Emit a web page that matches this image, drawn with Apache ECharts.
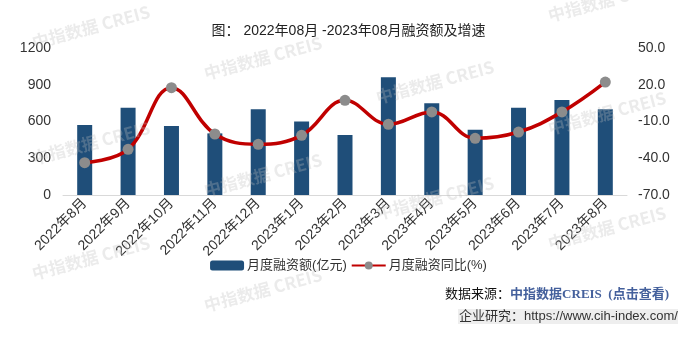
<!DOCTYPE html>
<html><head><meta charset="utf-8">
<script src="https://cdn.jsdelivr.net/npm/echarts@6/dist/echarts.min.js"></script>
<style>html,body{margin:0;padding:0;background:#fff}#c{width:697px;height:338px}</style>
</head><body><div id="c"></div>
<script>
const categories = ['2022年8月','2022年9月','2022年10月','2022年11月','2022年12月','2023年1月','2023年2月','2023年3月','2023年4月','2023年5月','2023年6月','2023年7月','2023年8月'];
const amountValues = [571, 713, 563, 503, 699, 601, 490, 961, 748, 533, 713, 776, 699];
const yoyValues = [-43.6, -32.7, 17.6, -20.2, -28.6, -21.3, 7.3, -12.3, -2.2, -23.7, -18.6, -2.2, 22.2];
const leftTicks = [0, 300, 600, 900, 1200];
const rightTicks = [-70, -40, -10, 20, 50];
const seriesNames = ['月度融资额(亿元)', '月度融资同比(%)'];
const titleText = '图： 2022年08月 -2023年08月融资额及增速';

const font = '"Liberation Sans", Arial, "Noto Sans CJK SC", sans-serif';
const serif = '"Liberation Serif", "Noto Sans CJK SC", serif';
const wmPos = [[91,27],[263,58],[435,82],[607,113],[607,0],[91,143],[263,175],[435,198],[607,228],[91,258],[263,290]];
const watermarks = wmPos.map(p => ({
  type: 'text', x: p[0], y: p[1], rotation: Math.PI * 15 / 180, z: 100, silent: true,
  style: { text: '中指数据 CREIS', fill: 'rgba(190,190,190,0.3)', font: 'bold 17px "Noto Sans CJK SC", sans-serif', align: 'center', verticalAlign: 'middle' }
}));

const chart = echarts.init(document.getElementById('c'), null, { renderer: 'canvas' });
chart.setOption({
  animation: false,
  textStyle: { fontFamily: font },
  title: { text: titleText, left: 'center', top: 19, textStyle: { fontSize: 14, fontWeight: 'normal', color: '#222', fontFamily: font } },
  grid: { left: 63, right: 70, top: 48, bottom: 143 },
  legend: {
    bottom: 61, left: 'center', itemGap: 4, itemWidth: 34, itemHeight: 10,
    textStyle: { fontSize: 13, color: '#333', fontFamily: font, padding: [0, 0, 0, -2] },
    data: seriesNames
  },
  xAxis: {
    type: 'category', data: categories,
    axisLine: { lineStyle: { color: '#d9d9d9', width: 1 } },
    axisTick: { show: false },
    axisLabel: { interval: 0, rotate: 45, fontSize: 14, color: '#333', margin: 6 }
  },
  yAxis: [
    { type: 'value', min: leftTicks[0], max: leftTicks[leftTicks.length-1], interval: 300,
      splitLine: { show: false }, axisLine: { show: false }, axisTick: { show: false },
      axisLabel: { fontSize: 14, color: '#333', margin: 12, formatter: v => String(v) } },
    { type: 'value', min: rightTicks[0], max: rightTicks[rightTicks.length-1], interval: 30,
      splitLine: { show: false }, axisLine: { show: false }, axisTick: { show: false },
      axisLabel: { fontSize: 14, color: '#333', margin: 11, formatter: v => v.toFixed(1) } }
  ],
  series: [
    { name: seriesNames[0], type: 'bar', data: amountValues, barWidth: 15, itemStyle: { color: '#1f4e79' } },
    { name: seriesNames[1], type: 'line', yAxisIndex: 1, data: yoyValues, smooth: 0.4,
      symbol: 'circle', symbolSize: 11, lineStyle: { color: '#c00000', width: 3.5 },
      itemStyle: { color: '#8c8c8c' }, z: 3 }
  ],
  graphic: watermarks.concat([
    { type: 'rect', left: 458, top: 309, shape: { width: 220, height: 15 }, style: { fill: '#eeeeee' }, z: 1 },
    { type: 'text', right: 28, top: 288, z: 2, style: {
      text: '{a|数据来源：}{b|中指数据CREIS  (点击查看)}',
      rich: { a: { fontSize: 13, fill: '#111', fontFamily: font }, b: { fontSize: 13, fill: '#44609c', fontWeight: 'bold', fontFamily: serif } }
    } },
    { type: 'text', left: 459, top: 310, z: 2, style: { text: '企业研究：https://www.cih-index.com/', fontSize: 13, fill: '#333', fontFamily: font } }
  ])
});
</script></body></html>
